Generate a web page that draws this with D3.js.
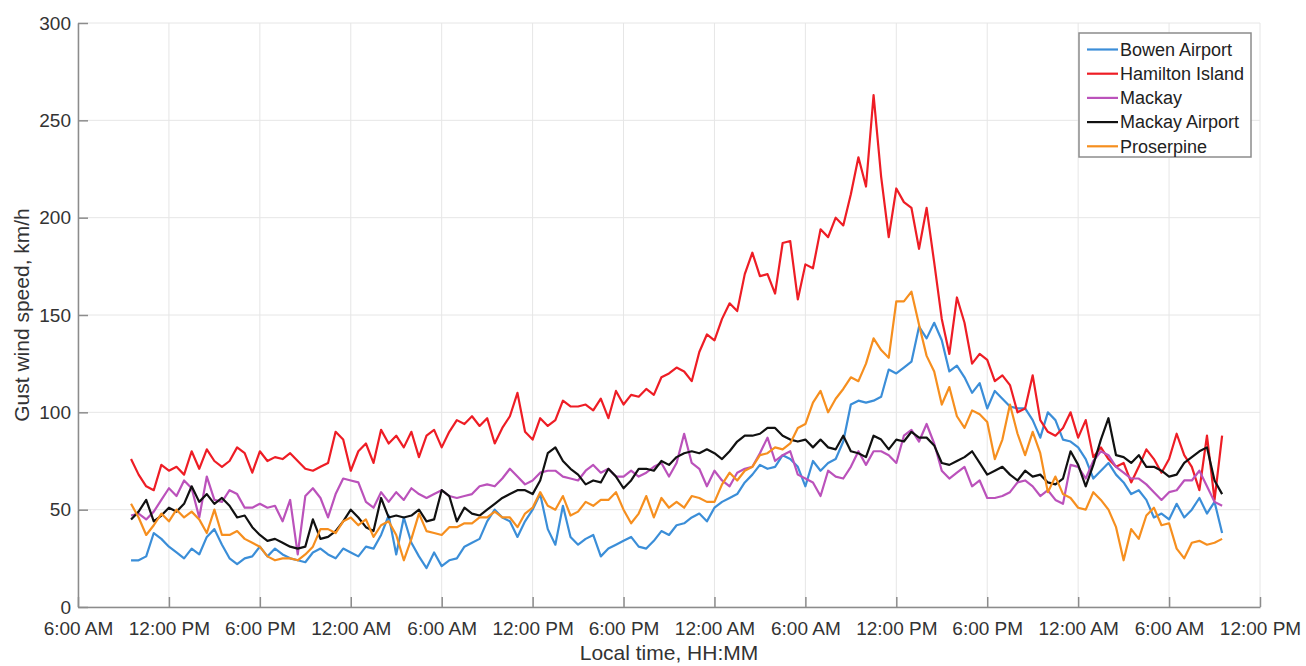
<!DOCTYPE html>
<html>
<head>
<meta charset="utf-8">
<script src="https://cdn.jsdelivr.net/npm/d3@7"></script>
<style>
  body { margin: 0; background: #fff; }
  svg { font-family: "Liberation Sans", Arial, Helvetica, sans-serif; }
</style>
</head>
<body>
<script>
// station names, in plotting order
var stations = ["Bowen Airport", "Hamilton Island", "Mackay", "Mackay Airport", "Proserpine"];
var colors = ["#3b8ed8", "#ee1d25", "#bb52bb", "#111111", "#f68f1f"];

// readings every 30 minutes, first one at 9:30 AM
var startTime = new Date(2017, 2, 26, 9, 30);
var stepMinutes = 30;

var bowen = [24,24,26,38,35,31,28,25,30,27,36,40,32,25,22,25,26,31,26,30,27,25,24,23,28,30,27,25,30,28,
  26,31,30,37,47,27,46,33,26,20,28,21,24,25,31,33,35,44,50,46,44,36,44,50,58,40,32,52,36,32,
  35,37,26,30,32,34,36,31,30,34,39,37,42,43,46,48,44,51,54,56,58,64,68,73,71,72,78,76,72,62,
  75,70,74,76,85,104,106,105,106,108,122,120,123,126,144,138,146,137,121,124,118,110,115,102,111,107,103,102,102,96,
  87,100,96,86,85,82,76,66,70,74,68,64,58,60,55,46,48,45,53,46,50,56,48,54,38];

var hamilton = [76,68,62,60,73,70,72,68,80,71,81,75,72,75,82,79,69,80,75,77,76,79,75,71,70,72,74,90,86,70,
  80,84,74,91,84,88,82,90,77,88,91,82,90,96,94,98,93,97,84,92,98,110,90,86,97,93,96,106,103,103,
  104,101,107,97,111,104,109,108,112,109,118,120,123,121,116,131,140,137,148,156,152,171,182,170,171,161,187,188,158,176,
  174,194,190,200,196,212,231,216,263,221,190,215,208,205,184,205,177,148,130,159,146,125,130,127,116,119,114,100,102,119,
  96,90,88,92,100,87,96,77,82,76,72,74,64,72,81,76,69,76,89,78,72,60,88,55,88];

var mackay = [47,48,45,49,55,61,57,65,61,46,67,55,54,60,58,51,51,53,51,52,44,55,27,57,61,56,46,58,66,65,
  64,54,51,59,54,59,55,61,58,56,58,60,57,56,57,58,62,63,62,66,71,67,63,65,69,70,70,67,66,65,
  70,73,69,71,67,67,70,67,69,72,74,67,74,89,74,71,62,70,65,62,69,71,72,79,87,75,78,80,68,66,
  64,57,70,67,66,72,80,73,80,80,78,74,88,91,85,94,84,70,66,69,72,62,65,56,56,57,59,64,65,62,
  57,60,55,53,73,72,66,75,80,78,72,69,66,66,63,59,55,59,60,65,65,70,62,54,52];

var mackayAirport = [45,49,55,44,47,51,49,53,62,54,58,53,56,52,46,47,41,37,34,35,33,31,30,31,45,35,36,39,44,50,
  46,41,39,56,46,47,46,47,50,44,45,60,57,44,51,48,47,50,53,56,58,60,60,58,65,79,82,75,71,68,
  63,65,64,71,67,61,65,71,71,70,75,73,77,79,80,79,81,79,76,80,85,88,88,89,92,92,88,86,85,86,
  82,86,82,81,88,80,79,77,88,86,81,86,85,90,87,87,83,74,73,75,77,80,74,68,70,72,68,65,70,67,
  68,64,63,66,80,73,62,73,86,97,78,77,74,78,72,72,70,67,68,74,77,80,82,65,58];

var proserpine = [53,46,37,42,48,44,50,46,49,45,38,50,37,37,39,35,33,31,26,24,25,25,24,27,31,40,40,38,44,46,
  42,45,36,42,44,37,24,35,48,39,38,37,41,41,43,43,46,46,49,46,46,41,48,51,59,52,50,57,47,49,
  54,52,55,55,59,50,43,48,57,46,56,51,54,51,57,56,54,54,63,69,65,70,72,78,79,82,81,84,92,94,
  105,111,100,107,112,118,116,125,138,132,128,157,157,162,145,129,121,104,113,98,92,101,99,95,76,86,104,89,78,90,
  79,59,67,58,56,51,50,59,55,50,41,24,40,35,47,51,42,43,30,25,33,34,32,33,35];

var series = [bowen, hamilton, mackay, mackayAirport, proserpine];

var yTicks = [0, 50, 100, 150, 200, 250, 300];
var xStart = new Date(2017, 2, 26, 6, 0);
var xEnd = new Date(2017, 2, 29, 12, 0);

var w = 1306;
var h = 666;
var plotLeft = 78, plotRight = 1260, plotTop = 23, plotBottom = 607;

var svg = d3.select("body")
  .append("svg")
  .attr("width", w)
  .attr("height", h);

var x = d3.scaleTime().domain([xStart, xEnd]).range([plotLeft, plotRight]);
var y = d3.scaleLinear().domain([0, 300]).range([plotBottom, plotTop]);

var xTicks = d3.timeHour.every(6).range(xStart, d3.timeMinute.offset(xEnd, 1));

// grid
svg.append("g")
  .selectAll("line")
  .data(xTicks)
  .enter()
  .append("line")
  .attr("x1", function(d){ return x(d) })
  .attr("x2", function(d){ return x(d) })
  .attr("y1", plotTop)
  .attr("y2", plotBottom)
  .attr("stroke", "#e6e6e6")
  .attr("stroke-width", 1);

svg.append("g")
  .selectAll("line")
  .data(yTicks)
  .enter()
  .append("line")
  .attr("x1", plotLeft)
  .attr("x2", plotRight)
  .attr("y1", function(d){ return y(d) })
  .attr("y2", function(d){ return y(d) })
  .attr("stroke", "#e6e6e6")
  .attr("stroke-width", 1);

// lines
var line = d3.line()
  .x(function(d, i){ return x(d3.timeMinute.offset(startTime, i * stepMinutes)) })
  .y(function(d){ return y(d) });

svg.append("g")
  .selectAll("path")
  .data(series)
  .enter()
  .append("path")
  .attr("d", line)
  .attr("fill", "none")
  .attr("stroke", function(d, i){ return colors[i] })
  .attr("stroke-width", 2.2)
  .attr("stroke-linejoin", "round");

// axes
var xAxis = svg.append("g")
  .attr("transform", "translate(0," + plotBottom + ")")
  .call(d3.axisBottom(x)
    .tickValues(xTicks)
    .tickFormat(d3.timeFormat("%-I:%M %p"))
    .tickSizeInner(-10)
    .tickSizeOuter(0)
    .tickPadding(15));

var yAxis = svg.append("g")
  .attr("transform", "translate(" + plotLeft + ",0)")
  .call(d3.axisLeft(y)
    .tickValues(yTicks)
    .tickSizeInner(-10)
    .tickSizeOuter(0)
    .tickPadding(7));

[xAxis, yAxis].forEach(function(a){
  a.select(".domain").attr("stroke", "#8c8c8c").attr("stroke-width", 1.5);
  a.selectAll(".tick line").attr("stroke", "#8c8c8c").attr("stroke-width", 1.5);
  a.selectAll(".tick text")
    .attr("fill", "#333")
    .style("font-size", "19px")
    .style("font-family", "'Liberation Sans', Arial, sans-serif");
});

// axis titles
svg.append("text")
  .text("Local time, HH:MM")
  .attr("x", (plotLeft + plotRight) / 2)
  .attr("y", 660)
  .attr("text-anchor", "middle")
  .attr("fill", "#333")
  .style("font-size", "21px");

svg.append("text")
  .text("Gust wind speed, km/h")
  .attr("transform", "translate(29," + ((plotTop + plotBottom) / 2) + ") rotate(-90)")
  .attr("text-anchor", "middle")
  .attr("fill", "#333")
  .style("font-size", "21px");

// legend
var legend = svg.append("g").attr("transform", "translate(1079,33)");

legend.append("rect")
  .attr("width", 172)
  .attr("height", 124)
  .attr("fill", "#fff")
  .attr("stroke", "#8c8c8c")
  .attr("stroke-width", 1.5);

var items = legend.selectAll("g.item")
  .data(stations)
  .enter()
  .append("g")
  .attr("class", "item")
  .attr("transform", function(d, i){ return "translate(0," + (16.5 + i * 24.2) + ")" });

items.append("line")
  .attr("x1", 8)
  .attr("x2", 39)
  .attr("stroke", function(d, i){ return colors[i] })
  .attr("stroke-width", 2.2);

items.append("text")
  .text(function(d){ return d })
  .attr("x", 41)
  .attr("dy", "0.35em")
  .attr("fill", "#222")
  .style("font-size", "18px");
</script>
</body>
</html>
